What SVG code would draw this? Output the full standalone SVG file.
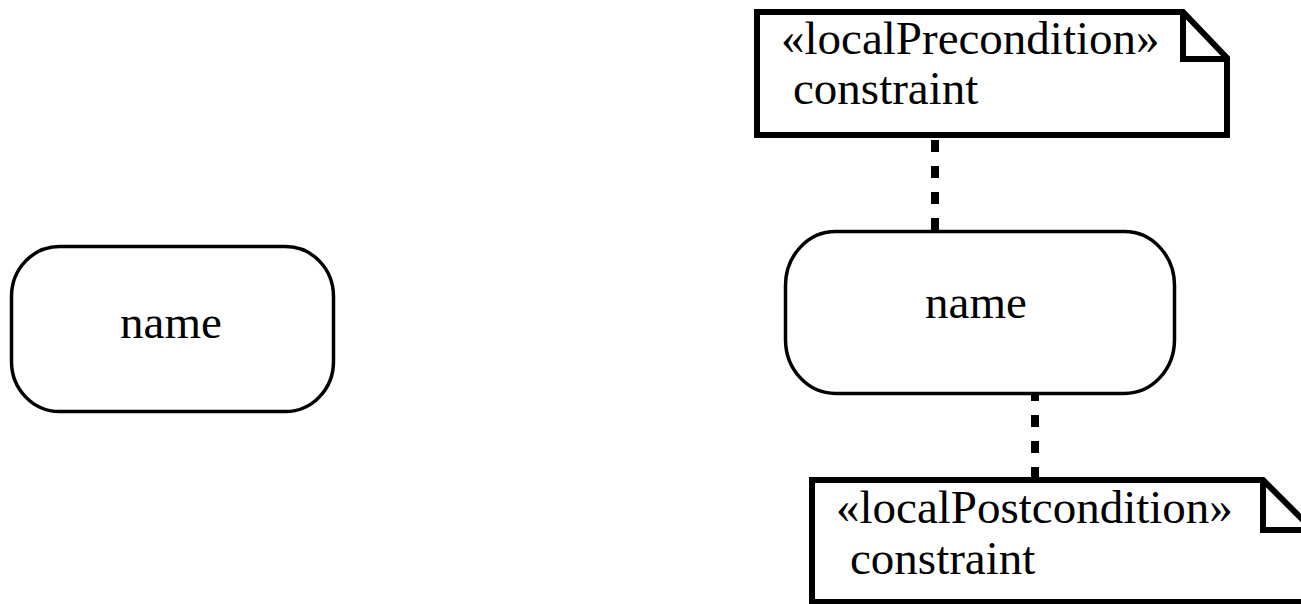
<svg xmlns="http://www.w3.org/2000/svg" width="1301" height="604" viewBox="0 0 1301 604">
  <style>
    .action { fill: #ffffff; stroke: #000000; stroke-width: 3.5; }
    .note { fill: #ffffff; stroke: #000000; stroke-width: 6; stroke-linejoin: miter; }
    .fold { fill: none; stroke: #000000; stroke-width: 6; stroke-linejoin: miter; }
    .link { fill: none; stroke: #000000; stroke-width: 8; stroke-dasharray: 12 14; }
    .label { font-family: "Liberation Serif", "Times New Roman", serif; font-size: 47px; fill: #000000; }
  </style>
  <rect width="1301" height="604" fill="#ffffff"/>

  <!-- dotted anchors between notes and the action -->
  <g id="connectors">
    <line class="link" x1="935" y1="140" x2="935" y2="231"/>
    <line class="link" x1="1035" y1="389" x2="1035" y2="477"/>
  </g>

  <!-- plain action -->
  <g id="action-plain">
    <rect class="action" x="11.5" y="246.5" width="322" height="165" rx="48" ry="50"/>
    <text class="label" x="171" y="338" text-anchor="middle">name</text>
  </g>

  <!-- action with local pre/post conditions -->
  <g id="action-constrained">
    <rect class="action" x="785.5" y="231.5" width="389" height="162" rx="50" ry="54"/>
    <text class="label" x="976" y="318" text-anchor="middle">name</text>
  </g>

  <g id="note-precondition">
    <path class="note" d="M757,12 H1183 L1227,58 V135 H757 Z"/>
    <path class="fold" d="M1183,12 V59 H1227"/>
    <text class="label" x="781" y="54">«localPrecondition»</text>
    <text class="label" x="793" y="104">constraint</text>
  </g>

  <g id="note-postcondition">
    <path class="note" d="M812,480 H1263 L1313,530 V602 H812 Z"/>
    <path class="fold" d="M1263,480 V530 H1313"/>
    <text class="label" x="836" y="523">«localPostcondition»</text>
    <text class="label" x="850" y="574">constraint</text>
  </g>
</svg>
